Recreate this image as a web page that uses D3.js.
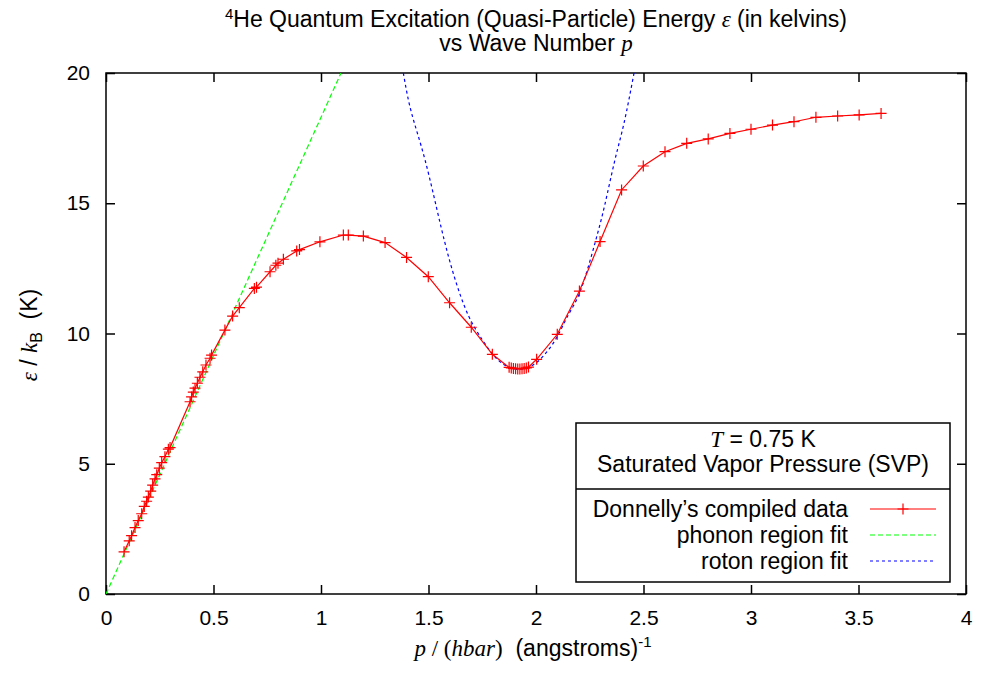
<!DOCTYPE html>
<html>
<head>
<meta charset="utf-8">
<script src="https://cdn.jsdelivr.net/npm/d3@7"></script>
<style>
  body { margin: 0; background: #fff; }
  svg { display: block; font-family: "Liberation Sans", Arial, sans-serif; }
  .serif { font-family: "Liberation Serif", "Times New Roman", serif; font-style: italic; }
</style>
</head>
<body>
<svg id="chart" width="981" height="675"></svg>
<script>
// Donnelly's compiled data
const dataP = [0.084, 0.108, 0.119, 0.135, 0.150, 0.166, 0.178, 0.189, 0.197, 0.208,
  0.217, 0.228, 0.236, 0.248, 0.259, 0.274, 0.290, 0.298, 0.391, 0.398,
  0.406, 0.414, 0.425, 0.437, 0.450, 0.465, 0.484, 0.491, 0.553, 0.589,
  0.620, 0.690, 0.700, 0.763, 0.790, 0.800, 0.825, 0.887, 0.900, 0.995,
  1.104, 1.127, 1.197, 1.298, 1.398, 1.499, 1.598, 1.699, 1.797, 1.875,
  1.885, 1.895, 1.905, 1.915, 1.925, 1.935, 1.945, 1.955, 1.965, 2.003,
  2.099, 2.202, 2.298, 2.398, 2.499, 2.600, 2.701, 2.801, 2.902, 3.000,
  3.100, 3.200, 3.302, 3.403, 3.503, 3.605];
const dataE = [1.62, 2.04, 2.24, 2.55, 2.82, 3.08, 3.36, 3.56, 3.72, 3.95,
  4.18, 4.42, 4.58, 4.83, 5.04, 5.27, 5.56, 5.62, 7.38, 7.57,
  7.75, 7.90, 8.09, 8.32, 8.53, 8.79, 9.05, 9.17, 10.13, 10.67,
  10.99, 11.73, 11.78, 12.37, 12.62, 12.70, 12.85, 13.17, 13.22, 13.52,
  13.78, 13.78, 13.74, 13.49, 12.92, 12.18, 11.18, 10.24, 9.20, 8.70,
  8.68, 8.66, 8.65, 8.64, 8.64, 8.65, 8.66, 8.68, 8.71, 9.01,
  9.97, 11.63, 13.53, 15.51, 16.43, 16.98, 17.30, 17.47, 17.68, 17.84,
  18.00, 18.13, 18.30, 18.35, 18.39, 18.45];

// phonon region fit (straight line)
const phononP = [0, 1.093];
const phononE = [0, 20];

// roton region fit
const rotonP = [1.383, 1.42, 1.484, 1.558, 1.62, 1.685, 1.75, 1.8, 1.85, 1.9, 1.92, 1.95,
  2.0, 2.05, 2.1, 2.15, 2.208, 2.274, 2.32, 2.367, 2.41, 2.456];
const rotonE = [20.0, 18.5, 16.66, 14.1, 12.18, 10.7, 9.76, 9.19, 8.81, 8.64, 8.62, 8.66,
  8.87, 9.29, 9.9, 10.71, 11.67, 13.46, 14.94, 16.66, 18.1, 20.0];

const xTicks = [0, 0.5, 1, 1.5, 2, 2.5, 3, 3.5, 4];
const yTicks = [0, 5, 10, 15, 20];

const svg = d3.select("#chart");
const m = { l: 106, r: 966, t: 73, b: 594 };
const fs = 21;    // tick labels
const fsT = 23;   // titles, labels, legend

const x = d3.scaleLinear().domain([0, 4]).range([m.l, m.r]);
const y = d3.scaleLinear().domain([0, 20]).range([m.b, m.t]);

svg.append("defs").append("clipPath").attr("id", "clip")
  .append("rect")
  .attr("x", m.l).attr("y", m.t)
  .attr("width", m.r - m.l).attr("height", m.b - m.t);

// axes with inward ticks, mirrored
const fmt = d => String(d);
const tickLen = 9;
const gx = svg.append("g").attr("transform", `translate(0,${m.b})`)
  .call(d3.axisBottom(x).tickValues(xTicks).tickFormat(fmt).tickSize(-tickLen).tickPadding(16));
const gy = svg.append("g").attr("transform", `translate(${m.l},0)`)
  .call(d3.axisLeft(y).tickValues(yTicks).tickFormat(fmt).tickSize(-tickLen).tickPadding(16));
const gt = svg.append("g").attr("transform", `translate(0,${m.t})`)
  .call(d3.axisTop(x).tickValues(xTicks).tickFormat("").tickSize(-tickLen));
const gr = svg.append("g").attr("transform", `translate(${m.r},0)`)
  .call(d3.axisRight(y).tickValues(yTicks).tickFormat("").tickSize(-tickLen));
[gx, gy, gt, gr].forEach(g => {
  g.select(".domain").remove();
  g.selectAll("line").attr("stroke", "#000").attr("stroke-width", 1.5);
  g.selectAll("text").attr("font-size", fs).attr("font-family", "Liberation Sans, Arial, sans-serif").attr("fill", "#000");
});

svg.append("rect")
  .attr("x", m.l).attr("y", m.t)
  .attr("width", m.r - m.l).attr("height", m.b - m.t)
  .attr("fill", "none").attr("stroke", "#000").attr("stroke-width", 1.5);

const plot = svg.append("g").attr("clip-path", "url(#clip)");

const line = d3.line().x(d => x(d[0])).y(d => y(d[1]));

// phonon fit
plot.append("path")
  .datum(phononP.map((p, i) => [p, phononE[i]]))
  .attr("d", line)
  .attr("fill", "none").attr("stroke", "#00ff00").attr("stroke-width", 1.2)
  .attr("stroke-dasharray", "5,3");

// roton fit
plot.append("path")
  .datum(rotonP.map((p, i) => [p, rotonE[i]]))
  .attr("d", line.curve(d3.curveNatural))
  .attr("fill", "none").attr("stroke", "#0000ff").attr("stroke-width", 1.2)
  .attr("stroke-dasharray", "3,3");

// data line + markers
const pts = dataP.map((p, i) => [p, dataE[i]]);
plot.append("path")
  .datum(pts)
  .attr("d", d3.line().x(d => x(d[0])).y(d => y(d[1])))
  .attr("fill", "none").attr("stroke", "#ff0000").attr("stroke-width", 1.2);

const ms = 5.5;
const plusPath = (cx, cy) => `M${cx - ms},${cy}H${cx + ms}M${cx},${cy - ms}V${cy + ms}`;
plot.append("path")
  .attr("d", pts.map(d => plusPath(x(d[0]), y(d[1]))).join(""))
  .attr("fill", "none").attr("stroke", "#ff0000").attr("stroke-width", 1.2);

// title
const t1 = svg.append("text").attr("x", (m.l + m.r) / 2).attr("y", 27)
  .attr("text-anchor", "middle").attr("font-size", fsT);
t1.append("tspan").attr("font-size", 15).attr("dy", -8).text("4");
t1.append("tspan").attr("dy", 8).text("He Quantum Excitation (Quasi-Particle) Energy ");
t1.append("tspan").attr("class", "serif").text("ε");
t1.append("tspan").text(" (in kelvins)");

const t2 = svg.append("text").attr("x", (m.l + m.r) / 2).attr("y", 51)
  .attr("text-anchor", "middle").attr("font-size", fsT);
t2.append("tspan").text("vs Wave Number ");
t2.append("tspan").attr("class", "serif").text("p");

// y label
const yl = svg.append("text")
  .attr("transform", "translate(37,335) rotate(-90)")
  .attr("text-anchor", "middle").attr("font-size", fsT);
yl.append("tspan").attr("class", "serif").text("ε");
yl.append("tspan").text(" / ");
yl.append("tspan").attr("class", "serif").text("k");
yl.append("tspan").attr("font-size", 16).attr("dy", 5).text("B");
yl.append("tspan").attr("dy", -5).text("\u00a0\u00a0(K)");

// x label
const xl = svg.append("text")
  .attr("x", 533).attr("y", 656)
  .attr("text-anchor", "middle").attr("font-size", fsT);
xl.append("tspan").attr("class", "serif").text("p");
xl.append("tspan").attr("font-family", "Liberation Serif, serif").text(" / (");
xl.append("tspan").attr("class", "serif").text("hbar");
xl.append("tspan").attr("font-family", "Liberation Serif, serif").text(")");
xl.append("tspan").text("\u00a0\u00a0(angstroms)");
xl.append("tspan").attr("font-size", 15).attr("dy", -9).text("-1");

// legend
const lg = svg.append("g");
const L = { x0: 576, x1: 950, y0: 423, y1: 582, ydiv: 489 };
lg.append("rect")
  .attr("x", L.x0).attr("y", L.y0)
  .attr("width", L.x1 - L.x0).attr("height", L.y1 - L.y0)
  .attr("fill", "#fff").attr("stroke", "#000").attr("stroke-width", 1.5);
lg.append("line")
  .attr("x1", L.x0).attr("x2", L.x1).attr("y1", L.ydiv).attr("y2", L.ydiv)
  .attr("stroke", "#000").attr("stroke-width", 1.5);

const lt = lg.append("text").attr("x", 763).attr("y", 447)
  .attr("text-anchor", "middle").attr("font-size", fsT);
lt.append("tspan").attr("class", "serif").text("T");
lt.append("tspan").text(" = 0.75 K");
lg.append("text").attr("x", 763).attr("y", 472)
  .attr("text-anchor", "middle").attr("font-size", fsT)
  .text("Saturated Vapor Pressure (SVP)");

const legendItems = ["Donnelly’s compiled data", "phonon region fit", "roton region fit"];
const legendColors = ["#ff0000", "#00ff00", "#0000ff"];
const legendDash = [null, "5,3", "3,3"];
legendItems.forEach((label, i) => {
  const by = 517 + i * 26;
  lg.append("text").attr("x", 848).attr("y", by)
    .attr("text-anchor", "end").attr("font-size", fsT).text(label);
  lg.append("line")
    .attr("x1", 870).attr("x2", 936).attr("y1", by - 8).attr("y2", by - 8)
    .attr("stroke", legendColors[i]).attr("stroke-width", 1.2)
    .attr("stroke-dasharray", legendDash[i]);
  if (i === 0) {
    lg.append("path").attr("d", plusPath(903, by - 8))
      .attr("stroke", legendColors[i]).attr("stroke-width", 1.2);
  }
});
</script>
</body>
</html>
